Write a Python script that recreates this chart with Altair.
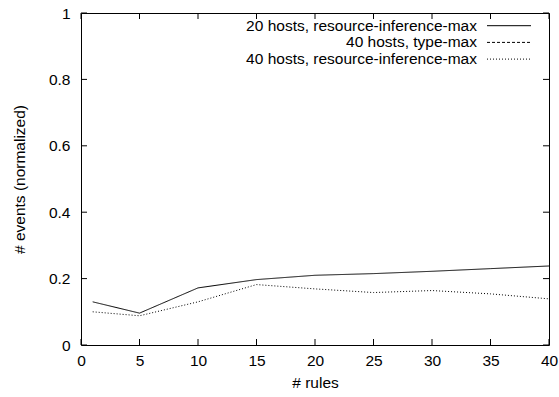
import altair as alt
import pandas as pd

# ---- data ----
rules = [1, 5, 10, 15, 20, 25, 30, 35, 40]
ri_20 = [0.130, 0.096, 0.172, 0.197, 0.210, 0.215, 0.222, 0.230, 0.238]
type_40 = [1.0, 1.0, 1.0, 1.0, 1.0, 1.0, 1.0, 1.0, 1.0]
ri_40 = [0.100, 0.088, 0.130, 0.182, 0.169, 0.158, 0.164, 0.154, 0.139]
series_names = [
    "20 hosts, resource-inference-max",
    "40 hosts, type-max",
    "40 hosts, resource-inference-max",
]
x_ticks = [0, 5, 10, 15, 20, 25, 30, 35, 40]
y_ticks = [0, 0.2, 0.4, 0.6, 0.8, 1.0]

# ---- layout / style ----
W, H = 468, 332
FONT = "Liberation Sans"
FS = 15.5
TICK = 6
dashes = [[1, 0], [3, 2], [1, 2]]

rows = []
for name, vals in zip(series_names, [ri_20, type_40, ri_40]):
    for r, v in zip(rules, vals):
        rows.append({"rules": r, "value": v, "series": name})
df = pd.DataFrame(rows)

axis_style = dict(labelFont=FONT, labelFontSize=FS, labelColor="black",
                  titleFont=FONT, titleFontSize=FS, titleFontWeight="normal",
                  titleColor="black", ticks=False, domain=False, grid=False,
                  labelFlush=False, labelOverlap=False)

xscale = alt.Scale(domain=[0, 40], nice=False, zero=False)
yscale = alt.Scale(domain=[0, 1], nice=False)
xaxis = alt.Axis(values=x_ticks, format="d", title="# rules",
                 labelBound=False, labelPadding=8, titlePadding=7, **axis_style)
yaxis = alt.Axis(values=y_ticks, format=".1~f", title="# events (normalized)",
                 labelPadding=11, titlePadding=21, **axis_style)

lines = alt.Chart(df).mark_line(strokeWidth=1, color="black", clip=True).encode(
    x=alt.X("rules:Q", scale=xscale, axis=xaxis),
    y=alt.Y("value:Q", scale=yscale, axis=yaxis),
    strokeDash=alt.StrokeDash("series:N", scale=alt.Scale(domain=series_names, range=dashes),
                              legend=None),
    detail="series:N",
)

xt = pd.DataFrame({"t": x_ticks})
yt = pd.DataFrame({"t": y_ticks})

xb = alt.Chart(xt).mark_rule(color="black", strokeWidth=1).encode(
    x=alt.X("t:Q", scale=xscale, axis=xaxis), y=alt.value(H), y2=alt.value(H - TICK))
xtop = alt.Chart(xt).mark_rule(color="black", strokeWidth=1).encode(
    x=alt.X("t:Q", scale=xscale, axis=xaxis), y=alt.value(0), y2=alt.value(TICK))
yl = alt.Chart(yt).mark_rule(color="black", strokeWidth=1).encode(
    y=alt.Y("t:Q", scale=yscale, axis=yaxis), x=alt.value(0), x2=alt.value(TICK))
yr = alt.Chart(yt).mark_rule(color="black", strokeWidth=1).encode(
    y=alt.Y("t:Q", scale=yscale, axis=yaxis), x=alt.value(W), x2=alt.value(W - TICK))

legend_layers = []
for i, name in enumerate(series_names):
    ly = 12.7 + 16.7 * i
    ldf = pd.DataFrame({"label": [name]})
    legend_layers.append(
        alt.Chart(ldf).mark_text(align="right", baseline="middle", font=FONT,
                                 fontSize=FS, color="black").encode(
            text="label:N", x=alt.value(396), y=alt.value(ly)))
    legend_layers.append(
        alt.Chart(ldf).mark_rule(color="black", strokeWidth=1,
                                 strokeDash=dashes[i]).encode(
            x=alt.value(406), x2=alt.value(450), y=alt.value(ly)))

chart = alt.layer(lines, xb, xtop, yl, yr, *legend_layers).properties(
    width=W, height=H,
    background="white",
    autosize=alt.AutoSizeParams(type="none"),
    padding={"left": 81, "top": 13, "right": 10, "bottom": 52},
).configure_view(stroke="black", strokeWidth=1)

chart.save("out.html", embed_options={"renderer": "svg", "actions": False})
